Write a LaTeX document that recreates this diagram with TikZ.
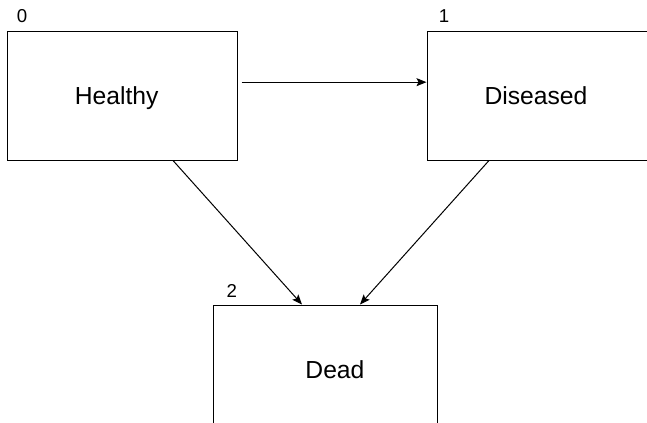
\documentclass[tikz,border=0pt]{standalone}
\usepackage{fontspec}
\setmainfont{Liberation Sans}
\usetikzlibrary{arrows.meta}

\tikzset{
  statebox/.style={draw, line width=0.75pt, minimum width=172.5pt, minimum height=96.75pt, inner sep=0pt},
  title/.style={anchor=base, inner sep=0pt, font=\fontsize{18.5}{22}\selectfont},
  num/.style={anchor=base west, inner sep=0pt, font=\fontsize{14}{16}\selectfont},
  link/.style={-{Stealth[length=7.5pt,width=6pt,inset=1.5pt]}, line width=0.75pt}
}

\begin{document}
\begin{tikzpicture}[x=0.75pt, y=-0.75pt]
  \clip (0,0) rectangle (647,422);
  % states
  \node[statebox] (Healthy) at (122,95.5) {};
  \node[statebox] (Diseased) at (542,95.5) {};
  \node[statebox, minimum width=167.5pt] (Dead) at (325.6,369.5) {};
  \node[title] (HealthyText) at ([xshift=-4pt,yshift=-7pt]Healthy.center) {Healthy};
  \node[title] (DiseasedText) at ([xshift=-4.5pt,yshift=-7pt]Diseased.center) {Diseased};
  \node[title] (DeadText) at ([xshift=7pt,yshift=-7pt]Dead.center) {Dead};
  % state numbers
  \node[num] (n0) at ([xshift=7.5pt,yshift=6pt]Healthy.north west) {0};
  \node[num] (n1) at ([xshift=9pt,yshift=6pt]Diseased.north west) {1};
  \node[num] (n2) at ([xshift=9.75pt,yshift=5.25pt]Dead.north west) {2};
  % transitions
  \draw[link] ([xshift=3pt,yshift=10pt]Healthy.east) -- ([yshift=10pt]Diseased.west);
  \draw[link] ([xshift=38.25pt]Healthy.south) -- ([xshift=-17.7pt]Dead.north);
  \draw[link] ([xshift=-39.75pt]Diseased.south) -- ([xshift=25.8pt]Dead.north);
\end{tikzpicture}
\end{document}
